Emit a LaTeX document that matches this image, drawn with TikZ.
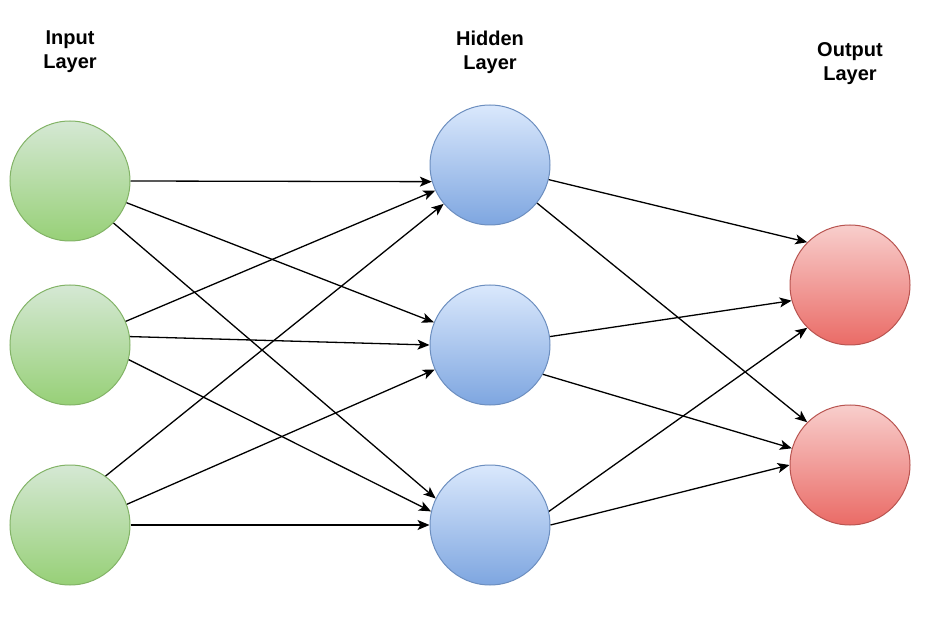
\documentclass[tikz,border=0pt]{standalone}
\usepackage{fontspec}
\setmainfont{Liberation Sans}
\usetikzlibrary{arrows.meta}
\definecolor{inFill}{HTML}{D5E8D4}
\definecolor{inFillB}{HTML}{97D077}
\definecolor{inLine}{HTML}{82B366}
\definecolor{hidFill}{HTML}{DAE8FC}
\definecolor{hidFillB}{HTML}{7EA6E0}
\definecolor{hidLine}{HTML}{6C8EBF}
\definecolor{outFill}{HTML}{F8CECC}
\definecolor{outFillB}{HTML}{EA6B66}
\definecolor{outLine}{HTML}{B85450}
\begin{document}
\begin{tikzpicture}[x=1pt,y=-1pt,
  neuron/.style={circle,minimum size=120pt,inner sep=0pt,line width=1pt},
  inneuron/.style={neuron,draw=inLine,top color=inFill,bottom color=inFillB},
  hidneuron/.style={neuron,draw=hidLine,top color=hidFill,bottom color=hidFillB},
  outneuron/.style={neuron,draw=outLine,top color=outFill,bottom color=outFillB},
  layertitle/.style={align=center,font=\fontsize{20}{24}\selectfont\bfseries},
  wire/.style={line width=1.3pt,-{Stealth[length=12pt,width=10pt,inset=3pt]}}]
\useasboundingbox (0,0) rectangle (951,620);
% layer titles
\node[layertitle] (tin) at (70,52) {Input\\Layer};
\node[layertitle] (thid) at (490,52) {Hidden\\Layer};
\node[layertitle] (tout) at (850,64) {Output\\Layer};
% neurons
\node[inneuron] (i1) at (70,181) {};
\node[inneuron] (i2) at (70,345) {};
\node[inneuron] (i3) at (70,525) {};
\node[hidneuron] (h1) at (490,165) {};
\node[hidneuron] (h2) at (490,345) {};
\node[hidneuron] (h3) at (490,525) {};
\node[outneuron] (o1) at (850,285) {};
\node[outneuron] (o2) at (850,465) {};
% input -> hidden
\draw[wire] (i1.0) -- (h1.196);
\draw[wire] (i1.-21) -- (h2.158);
\draw[wire] (i1.-44) -- (h3.154);
\draw[wire] (i2.23) -- (h1.205);
\draw[wire] (i2.8) -- (h2.180);
\draw[wire] (i2.-14) -- (h3.167);
\draw[wire] (i3.54) -- (h1.220);
\draw[wire] (i3.20) -- (h2.204);
\draw[wire] (i3.0) -- (h3.180);
% hidden -> output
\draw[wire] (h1.-14) -- (o1.135);
\draw[wire] (h1.-39) -- (o2.135);
\draw[wire] (h2.8) -- (o1.195);
\draw[wire] (h2.-29) -- (o2.164);
\draw[wire] (h3.13) -- (o1.225);
\draw[wire] (h3.0) -- (o2.180);
\end{tikzpicture}
\end{document}
